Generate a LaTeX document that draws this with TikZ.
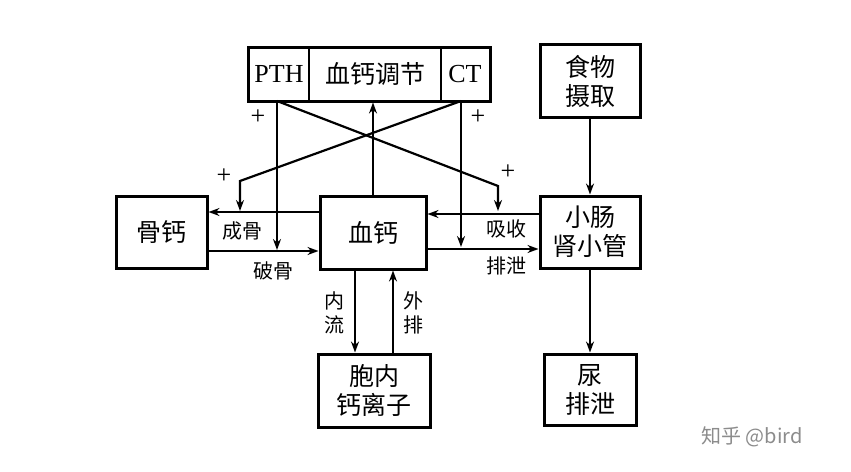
\documentclass[tikz,border=0pt]{standalone}
\usepackage{fontspec}
\setmainfont{Liberation Serif}
\newfontfamily\cjk{Noto Sans CJK SC}
\usetikzlibrary{positioning,calc,arrows.meta}

\tikzset{
  box/.style={draw,line width=3pt,inner sep=0pt,font=\cjk\fontsize{25}{29}\selectfont,align=center},
  flow/.style={line width=2.2pt,-{Stealth[length=11pt,width=8pt]}},
  lbl/.style={font=\cjk\fontsize{20}{24}\selectfont},
  sgn/.style={font=\fontsize{26}{28}\selectfont}
}

\begin{document}
\begin{tikzpicture}[x=1pt,y=-1pt]
      \useasboundingbox (0,0) rectangle (851,471);
      \fill[white] (0,0) rectangle (851,471);

      % boxes
      \node[box,minimum width=242pt,minimum height=54pt] (Reg) at (369,74) {};
      \node[font=\fontsize{26}{28}\selectfont] (PTH) at (279,74) {PTH};
      \node[font=\cjk\fontsize{25}{29}\selectfont] (RegText) at (375,74) {血钙调节};
      \node[font=\fontsize{26}{28}\selectfont] (CT) at (465,74) {CT};
      \draw[line width=2.6pt] (309,47) -- (309,101);
      \draw[line width=2.6pt] (441,47) -- (441,101);
      \node[box,minimum width=100pt,minimum height=73pt] (Food) at (590,81) {食物\\摄取};
      \node[box,minimum width=91pt,minimum height=72pt] (Bone) at (161.5,232) {骨钙};
      \node[box,minimum width=106pt,minimum height=73pt] (Blood) at (373,232.5) {血钙};
      \node[box,minimum width=100pt,minimum height=72pt] (Gut) at (590,232) {小肠\\肾小管};
      \node[box,minimum width=112pt,minimum height=73pt] (Cell) at (374,390.5) {胞内\\钙离子};
      \node[box,minimum width=92pt,minimum height=71pt] (Urine) at (590,389.5) {尿\\排泄};

      % helper points
      \coordinate (pthTop) at (277,101);
      \coordinate (ctTop)  at (461,101);
      \coordinate (pthBend) at (498,186);
      \coordinate (ctBend)  at (240,181);

      % regulation lines
      \draw[flow] (pthTop) -- (277,250);
      \draw[flow] (ctTop) -- (461,247);
      \draw[flow] (pthTop) -- (pthBend) -- (498,211);
      \draw[flow] (ctTop) -- (ctBend) -- (240,211);
      \draw[flow] (Blood.north) -- (Blood.north |- Reg.south);

      % exchanges
      \draw[flow] (Blood.west |- 0,212) -- (Bone.east |- 0,212);
      \draw[flow] (Bone.east |- 0,251) -- (Blood.west |- 0,251);
      \draw[flow] (Gut.west |- 0,214) -- (Blood.east |- 0,214);
      \draw[flow] (Blood.east |- 0,249) -- (Gut.west |- 0,249);
      \draw[flow] (Food.south) -- (Gut.north);
      \draw[flow] (Gut.south) -- (Urine.north);
      \draw[flow] (355,0 |- Blood.south) -- (355,0 |- Cell.north);
      \draw[flow] (393,0 |- Cell.north) -- (393,0 |- Blood.south);

      % labels
      \node[sgn] (p1) at (258,117) {+};
      \node[sgn] (p2) at (478,117) {+};
      \node[sgn] (p3) at (224,176) {+};
      \node[sgn] (p4) at (508,172) {+};
      \node[lbl] (l1) at (242,231) {成骨};
      \node[lbl] (l2) at (273,271) {破骨};
      \node[lbl] (l3) at (506,229) {吸收};
      \node[lbl] (l4) at (506,266) {排泄};
      \node[lbl,align=center] (l5) at (334,313) {内\\流};
      \node[lbl,align=center] (l6) at (413,313) {外\\排};
      \node[font=\cjk\fontsize{20}{22}\selectfont,text=black!45] (wm) at (752,437) {知乎 @bird};
\end{tikzpicture}
\end{document}
